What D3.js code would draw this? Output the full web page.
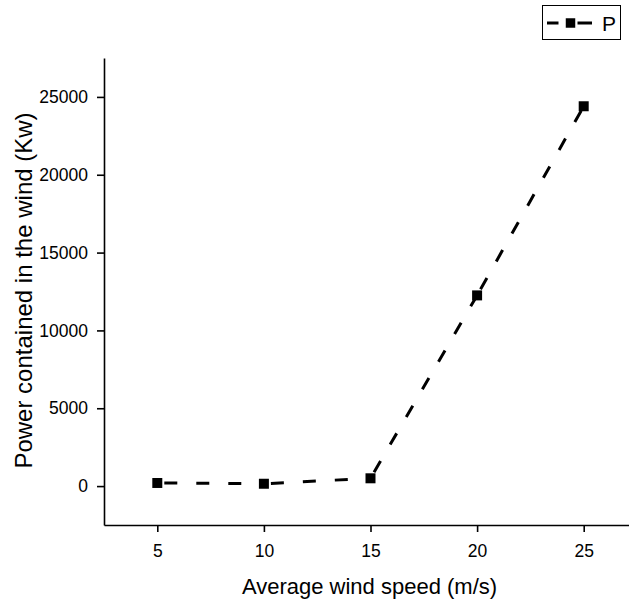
<!DOCTYPE html>
<html>
<head>
<meta charset="utf-8">
<script src="https://cdn.jsdelivr.net/npm/d3@7"></script>
<style>
  body { margin: 0; background: #fff; }
  svg { font-family: "Liberation Sans", Arial, sans-serif; }
</style>
</head>
<body>
<svg id="chart" width="629" height="600"></svg>
<script>
const speeds = [5, 10, 15, 20, 25];
const power = [200, 150, 500, 12250, 24400];
const xTicks = [5, 10, 15, 20, 25];
const xMinor = [2.5, 7.5, 12.5, 17.5, 22.5, 27.5];
const yTicks = [0, 5000, 10000, 15000, 20000, 25000];
const yMinor = [-2500, 2500, 7500, 12500, 17500, 22500, 27500];
const seriesName = 'P';

function drawChart() {
  const svg = d3.select('svg#chart');
  const left = 104, right = 637, top = 58, bottom = 525;

  const x = d3.scaleLinear().domain([2.5, 27.5]).range([left, right]);
  const y = d3.scaleLinear().domain([-2500, 27500]).range([bottom, top]);

  const data = speeds.map((s, i) => ({x: s, y: power[i]}));

  // Axes: major ticks with labels, minor ticks without
  const gx = svg.append('g').attr('transform', `translate(0,${bottom})`);
  gx.call(d3.axisBottom(x).tickValues(xMinor).tickSize(4).tickSizeOuter(0).tickFormat(''));
  gx.call(d3.axisBottom(x).tickValues(xTicks).tickSize(7).tickSizeOuter(0).tickPadding(13)
    .tickFormat(d3.format('d')));

  const gy = svg.append('g').attr('transform', `translate(${left},0)`);
  gy.call(d3.axisLeft(y).tickValues(yMinor).tickSize(4).tickSizeOuter(0).tickFormat(''));
  gy.call(d3.axisLeft(y).tickValues(yTicks).tickSize(7).tickSizeOuter(0).tickPadding(9)
    .tickFormat(d3.format('d')));

  svg.selectAll('.domain, .tick line').attr('stroke', '#000').attr('stroke-width', 1.6);
  svg.selectAll('.tick text').attr('font-size', 17.5).attr('fill', '#000')
    .attr('font-family', '"Liberation Sans", Arial, sans-serif');

  // Dashed segments, pattern restarting after each marker
  const line = d3.line().x(d => x(d.x)).y(d => y(d.y));
  const pairs = d3.pairs(data);
  svg.selectAll('path.seg').data(pairs).enter()
    .append('path')
    .attr('class', 'seg')
    .attr('fill', 'none')
    .attr('stroke', '#000')
    .attr('stroke-width', 3)
    .attr('stroke-dasharray', '13,19')
    .attr('stroke-dashoffset', -7)
    .attr('d', line);

  svg.selectAll('path.pt').data(data).enter()
    .append('path')
    .attr('class', 'pt')
    .attr('fill', '#000')
    .attr('transform', d => `translate(${x(d.x)},${y(d.y)})`)
    .attr('d', d3.symbol(d3.symbolSquare, 100));

  // Axis titles
  svg.append('text')
    .attr('x', (left + 627) / 2 + 4)
    .attr('y', 594)
    .attr('text-anchor', 'middle')
    .attr('font-size', 22)
    .text('Average wind speed (m/s)');

  svg.append('text')
    .attr('transform', `translate(32,${(top + bottom) / 2 - 1}) rotate(-90)`)
    .attr('text-anchor', 'middle')
    .attr('font-size', 24)
    .text('Power contained in the wind (Kw)');

  // Legend
  const lg = svg.append('g');
  lg.append('rect')
    .attr('x', 542.5).attr('y', 5.5).attr('width', 78).attr('height', 34)
    .attr('fill', 'none').attr('stroke', '#000').attr('stroke-width', 1);
  lg.append('line')
    .attr('x1', 547).attr('x2', 592).attr('y1', 23).attr('y2', 23)
    .attr('stroke', '#000').attr('stroke-width', 3)
    .attr('stroke-dasharray', '11.5,19,15');
  lg.append('path')
    .attr('transform', 'translate(570.5,23)')
    .attr('d', d3.symbol(d3.symbolSquare, 90));
  lg.append('text')
    .attr('x', 602).attr('y', 31)
    .attr('font-size', 21)
    .text(seriesName);
}

drawChart();
</script>
</body>
</html>
